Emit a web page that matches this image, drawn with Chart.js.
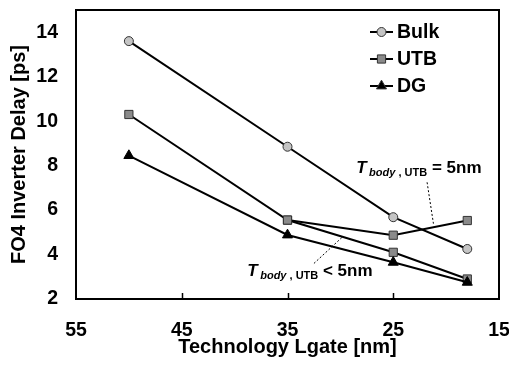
<!DOCTYPE html>
<html>
<head>
<meta charset="utf-8">
<script src="https://cdn.jsdelivr.net/npm/chart.js@4.4.0/dist/chart.umd.min.js"></script>
<style>
  html, body { margin: 0; padding: 0; background: #fff; }
</style>
</head>
<body>
<canvas id="delayChart" width="509" height="367"></canvas>
<script>
// data
const lgate = [50, 35, 25, 18];
const bulkDelay = [13.6, 8.85, 5.68, 4.25];
const utbDelay = [10.3, 5.55, 4.1, 2.9];
const dgDelay = [8.45, 4.88, 3.65, 2.75];
// UTB with Tbody = 5nm branch
const utb5Lgate = [35, 25, 18];
const utb5Delay = [5.55, 4.87, 5.53];
const xTicks = [55, 45, 35, 25, 15];
const yTicks = [2, 4, 6, 8, 10, 12, 14];

const FONT = '"Liberation Sans", Arial, sans-serif';
const toPoints = (xs, ys) => xs.map((x, i) => ({ x: x, y: ys[i] }));

const legendItems = [
    { label: 'Bulk', style: 'circle', fill: '#c4c4c4', radius: 4.5 },
    { label: 'UTB', style: 'rect', fill: '#8a8a8a', radius: 5.8 },
    { label: 'DG', style: 'triangle', fill: '#000', radius: 5.8 }
];

// frame, inner tick marks, legend and the Tbody notes
const decorPlugin = {
    id: 'decor',
    afterDraw(chart) {
        const ctx = chart.ctx;
        const area = chart.chartArea;
        const xs = chart.scales.x, ys = chart.scales.y;
        ctx.save();
        ctx.strokeStyle = '#000';
        ctx.lineWidth = 2;
        ctx.strokeRect(area.left, area.top, area.right - area.left, area.bottom - area.top);
        ctx.lineWidth = 1.5;
        [45, 35, 25].forEach(v => {
            const px = Math.round(xs.getPixelForValue(v)) + 0.5;
            ctx.beginPath();
            ctx.moveTo(px, area.bottom);
            ctx.lineTo(px, area.bottom - 6);
            ctx.stroke();
        });

        // legend
        legendItems.forEach((item, i) => {
            const y = area.top + 22 + i * 27;
            const x0 = area.right - 129;
            ctx.strokeStyle = '#000';
            ctx.lineWidth = 2;
            ctx.beginPath();
            ctx.moveTo(x0, y);
            ctx.lineTo(x0 + 23, y);
            ctx.stroke();
            ctx.fillStyle = item.fill;
            ctx.strokeStyle = '#333';
            ctx.lineWidth = 1;
            Chart.helpers.drawPoint(ctx, { pointStyle: item.style, radius: item.radius, borderWidth: 1 }, x0 + 11.5, y);
            ctx.fillStyle = '#000';
            ctx.font = 'bold 19.5px ' + FONT;
            ctx.textBaseline = 'middle';
            ctx.textAlign = 'left';
            ctx.fillText(item.label, x0 + 27, y + 1);
        });

        // Tbody annotations
        const note = (vx, vy, rest) => {
            let x = xs.getPixelForValue(vx);
            const y = ys.getPixelForValue(vy);
            ctx.fillStyle = '#000';
            ctx.textBaseline = 'alphabetic';
            ctx.textAlign = 'left';
            ctx.font = 'italic bold 17px ' + FONT;
            ctx.fillText('T', x, y);
            x += ctx.measureText('T').width + 2.5;
            ctx.font = 'italic bold 11px ' + FONT;
            ctx.fillText('body', x, y + 3);
            x += ctx.measureText('body').width;
            ctx.font = 'bold 11px ' + FONT;
            ctx.fillText(' , UTB', x, y + 3);
            x += ctx.measureText(' , UTB').width;
            ctx.font = 'bold 17px ' + FONT;
            ctx.fillText(rest, x, y);
        };
        note(28.5, 7.68, ' = 5nm');
        note(38.8, 3.02, ' < 5nm');

        const leader = (a, b) => {
            ctx.strokeStyle = '#000';
            ctx.lineWidth = 1;
            ctx.setLineDash([2, 2]);
            ctx.beginPath();
            ctx.moveTo(xs.getPixelForValue(a[0]), ys.getPixelForValue(a[1]));
            ctx.lineTo(xs.getPixelForValue(b[0]), ys.getPixelForValue(b[1]));
            ctx.stroke();
            ctx.setLineDash([]);
        };
        leader([21.8, 7.25], [21.2, 5.39]);
        leader([32.5, 3.6], [29.85, 4.77]);
        ctx.restore();
    }
};

const lineStyle = {
    borderColor: '#000',
    borderWidth: 2,
    pointBorderColor: '#333',
    pointBorderWidth: 1,
    tension: 0,
    clip: false
};

const ctx = document.getElementById('delayChart').getContext('2d');
new Chart(ctx, {
    type: 'line',
    data: {
        datasets: [
            Object.assign({}, lineStyle, {
                label: 'UTB Tbody = 5nm',
                data: toPoints(utb5Lgate, utb5Delay),
                pointStyle: 'rect',
                pointRadius: 5.8,
                pointBackgroundColor: '#8a8a8a'
            }),
            Object.assign({}, lineStyle, {
                label: 'DG',
                data: toPoints(lgate, dgDelay),
                pointStyle: 'triangle',
                pointRadius: 5.8,
                pointBackgroundColor: '#000',
                pointBorderColor: '#000'
            }),
            Object.assign({}, lineStyle, {
                label: 'UTB',
                data: toPoints(lgate, utbDelay),
                pointStyle: 'rect',
                pointRadius: 5.8,
                pointBackgroundColor: '#8a8a8a'
            }),
            Object.assign({}, lineStyle, {
                label: 'Bulk',
                data: toPoints(lgate, bulkDelay),
                pointStyle: 'circle',
                pointRadius: 4.5,
                pointBackgroundColor: '#c4c4c4'
            })
        ]
    },
    options: {
        responsive: false,
        animation: false,
        devicePixelRatio: 1,
        layout: { padding: { top: 10, right: 10, left: 0, bottom: 0 } },
        plugins: {
            legend: { display: false },
            tooltip: { enabled: false }
        },
        scales: {
            x: {
                type: 'linear',
                reverse: true,
                min: 15,
                max: 55,
                afterBuildTicks: scale => { scale.ticks = xTicks.map(v => ({ value: v })); },
                afterFit: scale => {
                    scale.height = 68;
                    scale.paddingLeft = 0;
                    scale.paddingRight = 0;
                },
                grid: { display: false, drawTicks: false },
                border: { display: false },
                ticks: { color: '#000', font: { family: FONT, size: 19.5, weight: 'bold' }, padding: 20, maxRotation: 0 },
                title: {
                    display: true,
                    text: 'Technology Lgate [nm]',
                    color: '#000',
                    font: { family: FONT, size: 20, weight: 'bold' },
                    padding: { top: 0, bottom: 8 }
                }
            },
            y: {
                min: 2,
                max: 15,
                afterBuildTicks: scale => { scale.ticks = yTicks.map(v => ({ value: v })); },
                afterFit: scale => {
                    scale.width = 76;
                    scale.paddingTop = 0;
                    scale.paddingBottom = 0;
                },
                grid: { display: false, drawTicks: false },
                border: { display: false },
                ticks: { color: '#000', font: { family: FONT, size: 19.5, weight: 'bold' }, padding: 18 },
                title: {
                    display: true,
                    text: 'FO4 Inverter Delay [ps]',
                    color: '#000',
                    font: { family: FONT, size: 20, weight: 'bold' },
                    padding: { top: 7, bottom: 0 }
                }
            }
        }
    },
    plugins: [decorPlugin]
});
</script>
</body>
</html>
